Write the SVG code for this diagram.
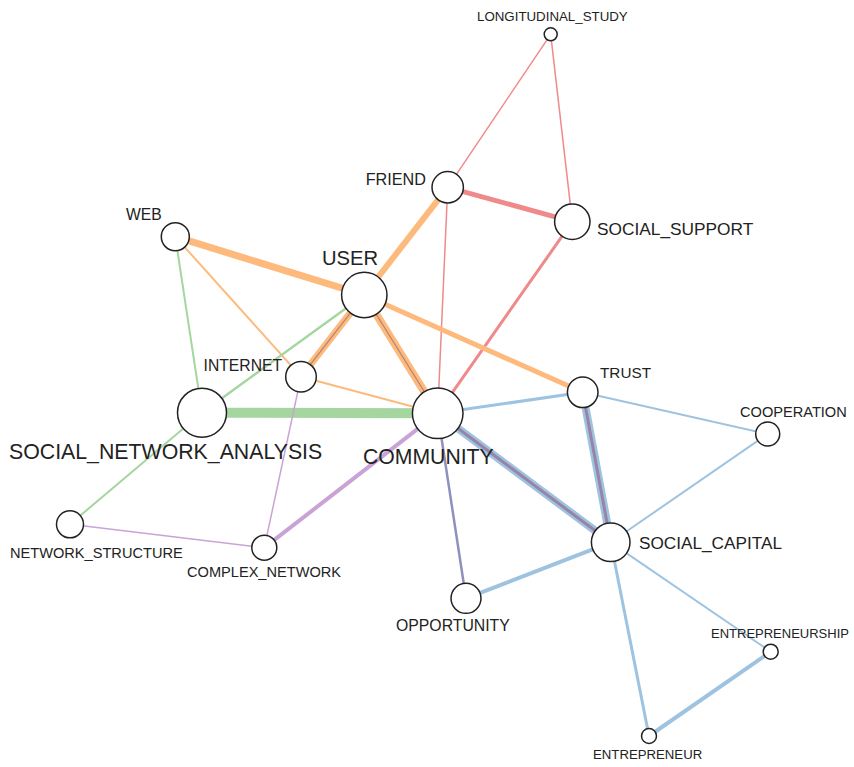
<svg xmlns="http://www.w3.org/2000/svg" width="854" height="767" viewBox="0 0 854 767">
<style>
.n{fill:#fff;stroke:#222;stroke-width:1.5}
.t{font-family:"Liberation Sans",Arial,sans-serif;fill:#222}
.e{fill:none;stroke-linecap:butt}
.r{stroke:#f08a8a}
.o{stroke:#fdba7c}
.g{stroke:#a6d6a0}
.p{stroke:#c9a3d6}
.b{stroke:#9ec3e0}
.ob{stroke:#b08278}
.bp{stroke:#9784a6}
</style>
<rect width="854" height="767" fill="#fff"/>
<g id="connectors">
<line class="e r" x1="550.7" y1="34.3" x2="447.7" y2="187.3" stroke-width="1.5"/>
<line class="e r" x1="550.7" y1="34.3" x2="572.3" y2="221.7" stroke-width="1.5"/>
<line class="e r" x1="447.7" y1="187.3" x2="572.3" y2="221.7" stroke-width="5"/>
<line class="e r" x1="447.7" y1="187.3" x2="437.7" y2="413.3" stroke-width="1.5"/>
<line class="e r" x1="572.3" y1="221.7" x2="437.7" y2="413.3" stroke-width="3"/>
<line class="e o" x1="447.7" y1="187.3" x2="364.3" y2="295" stroke-width="6"/>
<line class="e o" x1="175.3" y1="236.7" x2="364.3" y2="295" stroke-width="7"/>
<line class="e o" x1="175.3" y1="236.7" x2="301" y2="376.7" stroke-width="2"/>
<line class="e o" x1="364.3" y1="295" x2="582.7" y2="392.3" stroke-width="5"/>
<line class="e o" x1="301" y1="376.7" x2="437.7" y2="413.3" stroke-width="2"/>
<line class="e g" x1="175.3" y1="236.7" x2="202" y2="412.7" stroke-width="2"/>
<line class="e g" x1="364.3" y1="295" x2="202" y2="412.7" stroke-width="2.5"/>
<line class="e g" x1="202" y1="412.7" x2="70" y2="524.3" stroke-width="2"/>
<line class="e g" x1="202" y1="412.7" x2="437.7" y2="413.3" stroke-width="10"/>
<line class="e o" x1="364.3" y1="295" x2="301" y2="376.7" stroke-width="7"/>
<line class="e ob" x1="364.3" y1="295" x2="301" y2="376.7" stroke-width="1.2"/>
<line class="e o" x1="364.3" y1="295" x2="437.7" y2="413.3" stroke-width="8"/>
<line class="e ob" x1="364.3" y1="295" x2="437.7" y2="413.3" stroke-width="1.2"/>
<line class="e p" x1="301" y1="376.7" x2="264.3" y2="547.7" stroke-width="1.5"/>
<line class="e p" x1="70" y1="524.3" x2="264.3" y2="547.7" stroke-width="1.5"/>
<line class="e p" x1="264.3" y1="547.7" x2="437.7" y2="413.3" stroke-width="4"/>
<line class="e b" x1="437.7" y1="413.3" x2="582.7" y2="392.3" stroke-width="3"/>
<line class="e b" x1="582.7" y1="392.3" x2="767.7" y2="434" stroke-width="2"/>
<line class="e b" x1="767.7" y1="434" x2="610.7" y2="542.3" stroke-width="2"/>
<line class="e b" x1="610.7" y1="542.3" x2="466" y2="598.3" stroke-width="4"/>
<line class="e b" x1="610.7" y1="542.3" x2="770.7" y2="651.7" stroke-width="2"/>
<line class="e b" x1="610.7" y1="542.3" x2="649" y2="736" stroke-width="3"/>
<line class="e b" x1="649" y1="736" x2="770.7" y2="651.7" stroke-width="4"/>
<line class="e" x1="437.7" y1="413.3" x2="466" y2="598.3" stroke="#8f90bd" stroke-width="2.5"/>
<line class="e b" x1="437.7" y1="413.3" x2="610.7" y2="542.3" stroke-width="8"/>
<line class="e bp" x1="437.7" y1="413.3" x2="610.7" y2="542.3" stroke-width="3"/>
<line class="e b" x1="582.7" y1="392.3" x2="610.7" y2="542.3" stroke-width="8"/>
<line class="e bp" x1="582.7" y1="392.3" x2="610.7" y2="542.3" stroke-width="3"/>
</g>
<g id="LONGITUDINAL_STUDY"><circle class="n" cx="550.7" cy="34.3" r="6.5"/><text class="t" x="477" y="20.5" font-size="13.3">LONGITUDINAL_STUDY</text></g>
<g id="FRIEND"><circle class="n" cx="447.7" cy="187.3" r="15.7"/><text class="t" x="426" y="185" font-size="16.2" text-anchor="end">FRIEND</text></g>
<g id="SOCIAL_SUPPORT"><circle class="n" cx="572.3" cy="221.7" r="17.7"/><text class="t" x="597" y="235" font-size="17.3">SOCIAL_SUPPORT</text></g>
<g id="WEB"><circle class="n" cx="175.3" cy="236.7" r="14"/><text class="t" x="126" y="220" font-size="15.7">WEB</text></g>
<g id="USER"><circle class="n" cx="364.3" cy="295" r="22.7"/><text class="t" x="322" y="264.5" font-size="20.2">USER</text></g>
<g id="INTERNET"><circle class="n" cx="301" cy="376.7" r="15.3"/><text class="t" x="282" y="371" font-size="15.7" text-anchor="end">INTERNET</text></g>
<g id="SOCIAL_NETWORK_ANALYSIS"><circle class="n" cx="202" cy="412.7" r="24.5"/><text class="t" x="9" y="459" font-size="21.3">SOCIAL_NETWORK_ANALYSIS</text></g>
<g id="COMMUNITY"><circle class="n" cx="437.7" cy="413.3" r="25.3"/><text class="t" x="363" y="463.5" font-size="21.2">COMMUNITY</text></g>
<g id="TRUST"><circle class="n" cx="582.7" cy="392.3" r="15.3"/><text class="t" x="600" y="377.7" font-size="15.3">TRUST</text></g>
<g id="COOPERATION"><circle class="n" cx="767.7" cy="434" r="12"/><text class="t" x="740" y="416.7" font-size="14.6">COOPERATION</text></g>
<g id="SOCIAL_CAPITAL"><circle class="n" cx="610.7" cy="542.3" r="19.3"/><text class="t" x="639" y="548.5" font-size="17.2">SOCIAL_CAPITAL</text></g>
<g id="NETWORK_STRUCTURE"><circle class="n" cx="70" cy="524.3" r="13.5"/><text class="t" x="10" y="557.7" font-size="14.6">NETWORK_STRUCTURE</text></g>
<g id="COMPLEX_NETWORK"><circle class="n" cx="264.3" cy="547.7" r="12.5"/><text class="t" x="187" y="577" font-size="14.6">COMPLEX_NETWORK</text></g>
<g id="OPPORTUNITY"><circle class="n" cx="466" cy="598.3" r="15"/><text class="t" x="396" y="630.5" font-size="15.8">OPPORTUNITY</text></g>
<g id="ENTREPRENEURSHIP"><circle class="n" cx="770.7" cy="651.7" r="7.5"/><text class="t" x="711" y="637.7" font-size="13">ENTREPRENEURSHIP</text></g>
<g id="ENTREPRENEUR"><circle class="n" cx="649" cy="736" r="7.5"/><text class="t" x="593" y="759" font-size="13.2">ENTREPRENEUR</text></g>
</svg>
